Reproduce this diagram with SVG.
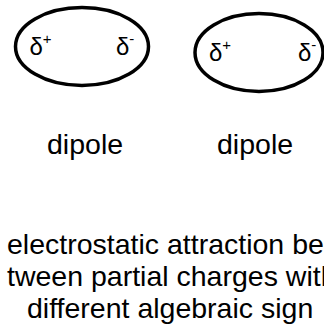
<svg xmlns="http://www.w3.org/2000/svg" width="324" height="325" viewBox="0 0 324 325">
<style>
.ell{fill:none;stroke:#000;stroke-width:3.5}
.t{font-family:"Liberation Sans",Arial,sans-serif;fill:#000}
.d{font-size:24px}
.s{font-size:15px}
.big{font-size:28.5px}
</style>
<rect width="324" height="325" fill="#fff"/>
<g id="dipole1">
<ellipse class="ell" cx="82" cy="46.5" rx="66.5" ry="39"/>
<text class="t d" x="29.5" y="55">δ<tspan class="s" dy="-11">+</tspan></text>
<text class="t d" x="116" y="55">δ<tspan class="s" dy="-11">-</tspan></text>
<text class="t big" x="47" y="154">dipole</text>
</g>
<g id="dipole2">
<ellipse class="ell" cx="259" cy="52.5" rx="64" ry="39"/>
<text class="t d" x="209" y="61">δ<tspan class="s" dy="-11">+</tspan></text>
<text class="t d" x="298" y="61">δ<tspan class="s" dy="-11">-</tspan></text>
<text class="t big" x="217" y="154">dipole</text>
</g>
<g id="caption">
<text class="t big" x="7" y="254">electrostatic attraction be</text>
<text class="t big" x="7" y="286">tween partial charges with</text>
<text class="t big" x="27" y="318">different algebraic sign</text>
</g>
<g id="connectors"/>
</svg>
